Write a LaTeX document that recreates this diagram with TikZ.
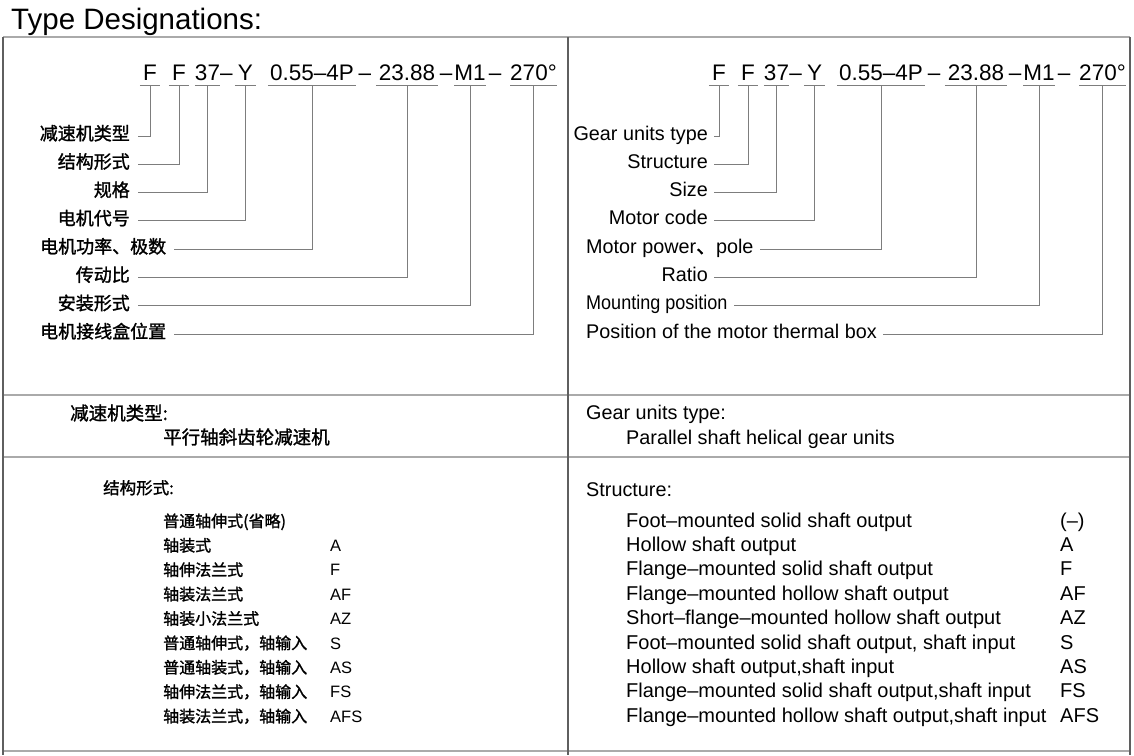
\documentclass[tikz,border=0pt]{standalone}
\usepackage{fontspec}
\setmainfont{Liberation Sans}
\newfontfamily\cjk{Noto Sans CJK SC}[FakeBold=1.4]
\usetikzlibrary{positioning}
\definecolor{framelight}{RGB}{170,170,170}
\definecolor{framedark}{RGB}{95,95,95}
\definecolor{leadgray}{RGB}{125,125,125}
\tikzset{
    framelight/.style={draw=framelight, line width=2pt},
    framedark/.style={draw=framedark, line width=1.3pt},
    codeline/.style={draw=leadgray, line width=1pt},
    leadline/.style={draw=leadgray, line width=1pt},
    codeseg/.style={font=\fontsize{22.5}{24}\selectfont, inner sep=0pt, text depth=5pt, minimum width=#1, anchor=base,
        append after command={(\tikzlastnode.south west) edge[codeline] (\tikzlastnode.south east)}},
    codesep/.style={font=\fontsize{22.5}{24}\selectfont, inner sep=0pt, anchor=base},
    cnlabel/.style={font=\cjk\fontsize{18}{20}\selectfont, inner xsep=8pt, inner ysep=0pt, text height=8pt, text depth=0pt},
    enlabel/.style={font=\fontsize{19.8}{22}\selectfont, inner xsep=6pt, inner ysep=0pt, text height=8pt, text depth=0pt},
    cnhead/.style={font=\cjk\fontsize{18.5}{20}\selectfont, inner sep=0pt, anchor=base west},
    enhead/.style={font=\fontsize{19.8}{22}\selectfont, inner sep=0pt, anchor=base west},
    cnitem/.style={font=\cjk\fontsize{16}{18}\selectfont, inner sep=0pt, anchor=base west},
    cncode/.style={font=\fontsize{16.5}{18}\selectfont, inner sep=0pt, anchor=base west},
    enitem/.style={font=\fontsize{20}{22}\selectfont, inner sep=0pt, anchor=base west}
}

\begin{document}
\begin{tikzpicture}[x=1pt, y=-1pt, node distance=0pt]
\useasboundingbox (0,0) rectangle (1134,755);

\node[anchor=base west, inner sep=0pt, font=\fontsize{29.5}{32}\selectfont] (title) at (11,29) {Type Designations:};

% table frame
\draw[framelight] (3,37) -- (1130,37);
\draw[framelight] (3,395) -- (1130,395);
\draw[framelight] (3,457) -- (1130,457);
\draw[framelight] (3,751) -- (1130,751);
\draw[framedark] (3,37) -- (3,755);
\draw[framedark] (568,37) -- (568,755);
\draw[framedark] (1130,37) -- (1130,755);

% code, chinese side
\node[codeseg=20pt] (zF1) at (150,80) {F};
\node[codeseg=20pt] (zF2) at (179,80) {F};
\node[codeseg=21pt] (zSize) at (207.5,80) {37};
\node[codesep] (zd1) at (226.5,80) {--};
\node[codeseg=21pt] (zY) at (245.5,80) {Y};
\node[codeseg=88pt] (zPow) at (312,80) {0.55--4P};
\node[codesep] (zd2) at (365,80) {--};
\node[codeseg=62pt] (zRat) at (407,80) {23.88};
\node[codesep] (zd3) at (446,80) {--};
\node[codeseg=28pt] (zM) at (470,80) {M1};
\node[codesep] (zd4) at (495,80) {--};
\node[codeseg=43pt] (zBox) at (533.5,80) {270°};

\node[cnlabel, anchor=base east] (zl1) at (138,140) {减速机类型};
\node[cnlabel, anchor=base east] (zl2) at (138,168.3) {结构形式};
\node[cnlabel, anchor=base east] (zl3) at (138,196.6) {规格};
\node[cnlabel, anchor=base east] (zl4) at (138,224.9) {电机代号};
\node[cnlabel, anchor=base west] (zl5) at (32,253.2) {电机功率、极数};
\node[cnlabel, anchor=base east] (zl6) at (138,281.5) {传动比};
\node[cnlabel, anchor=base east] (zl7) at (138,309.8) {安装形式};
\node[cnlabel, anchor=base west] (zl8) at (32,338.1) {电机接线盒位置};

\draw[leadline] (zF1.south) |- (zl1.east);
\draw[leadline] (zF2.south) |- (zl2.east);
\draw[leadline] (zSize.south) |- (zl3.east);
\draw[leadline] (zY.south) |- (zl4.east);
\draw[leadline] (zPow.south) |- (zl5.east);
\draw[leadline] (zRat.south) |- (zl6.east);
\draw[leadline] (zM.south) |- (zl7.east);
\draw[leadline] (zBox.south) |- (zl8.east);

% code, english side
\node[codeseg=20pt] (eF1) at (719,80) {F};
\node[codeseg=20pt] (eF2) at (748,80) {F};
\node[codeseg=21pt] (eSize) at (776.5,80) {37};
\node[codesep] (ed1) at (795.5,80) {--};
\node[codeseg=21pt] (eY) at (814.5,80) {Y};
\node[codeseg=88pt] (ePow) at (881,80) {0.55--4P};
\node[codesep] (ed2) at (934,80) {--};
\node[codeseg=62pt] (eRat) at (976,80) {23.88};
\node[codesep] (ed3) at (1015,80) {--};
\node[codeseg=28pt] (eM) at (1039,80) {M1};
\node[codesep] (ed4) at (1064,80) {--};
\node[codeseg=43pt] (eBox) at (1102.5,80) {270°};

\node[enlabel, anchor=base east] (el1) at (714,140) {Gear units type};
\node[enlabel, anchor=base east] (el2) at (714,168.3) {Structure};
\node[enlabel, anchor=base east] (el3) at (714,196.6) {Size};
\node[enlabel, anchor=base east] (el4) at (714,224.9) {Motor code};
\node[enlabel, anchor=base west] (el5) at (580,253.2) {Motor power{\cjk 、}pole};
\node[enlabel, anchor=base east] (el6) at (714,281.5) {Ratio};
\node[enlabel, anchor=base west] (el7) at (580,309.8) {\scalebox{0.91}[1]{Mounting position}};
\node[enlabel, anchor=base west] (el8) at (580,338.1) {Position of the motor thermal box};

\draw[leadline] (eF1.south) |- (el1.east);
\draw[leadline] (eF2.south) |- (el2.east);
\draw[leadline] (eSize.south) |- (el3.east);
\draw[leadline] (eY.south) |- (el4.east);
\draw[leadline] (ePow.south) |- (el5.east);
\draw[leadline] (eRat.south) |- (el6.east);
\draw[leadline] (eM.south) |- (el7.east);
\draw[leadline] (eBox.south) |- (el8.east);

% gear unit type
\node[cnhead] (ztype) at (70,420) {减速机类型:};
\node[cnhead] (ztypev) at (163,444) {平行轴斜齿轮减速机};
\node[enhead] (etype) at (586,419) {Gear units type:};
\node[enhead] (etypev) at (626,444) {Parallel shaft helical gear units};

% structure
\node[cnitem, font=\cjk\fontsize{16.5}{18}\selectfont] (zstruct) at (103,494) {结构形式:};
\node[enhead] (estruct) at (586,496) {Structure:};

\foreach \k/\yy/\zh/\code in {1/527/普通轴伸式(省略)/{}, 2/551.4/轴装式/A, 3/575.8/轴伸法兰式/F,
    4/600.2/轴装法兰式/AF, 5/624.6/轴装小法兰式/AZ, 6/649/普通轴伸式，轴输入/S,
    7/673.4/普通轴装式，轴输入/AS, 8/697.8/轴伸法兰式，轴输入/FS, 9/722.2/轴装法兰式，轴输入/AFS}{
  \node[cnitem] (zs\k) at (163,\yy) {\zh};
  \node[cncode] (zsc\k) at (330,\yy) {\code};
}

\foreach \k/\yy/\en/\code in {1/527/{Foot--mounted solid shaft output}/{(--)},
    2/551.4/{Hollow shaft output}/A,
    3/575.8/{Flange--mounted solid shaft output}/F,
    4/600.2/{Flange--mounted hollow shaft output}/AF,
    5/624.6/{Short--flange--mounted hollow shaft output}/AZ,
    6/649/{Foot--mounted solid shaft output, shaft input}/S,
    7/673.4/{Hollow shaft output,shaft input}/AS,
    8/697.8/{Flange--mounted solid shaft output,shaft input}/FS,
    9/722.2/{Flange--mounted hollow shaft output,shaft input}/AFS}{
  \node[enitem] (es\k) at (626,\yy) {\en};
  \node[enitem] (esc\k) at (1060,\yy) {\code};
}

\end{tikzpicture}
\end{document}
